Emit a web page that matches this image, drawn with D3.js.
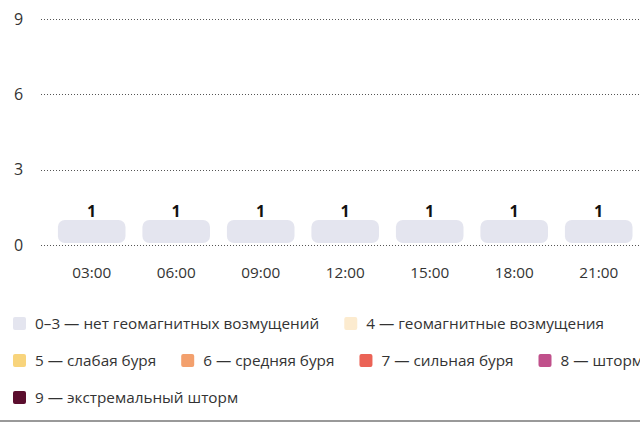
<!DOCTYPE html>
<meta charset="utf-8">
<style>
body { margin: 0; background: #fff; }
svg { display: block; font-family: "Open Sans", "Noto Sans", sans-serif; }
.grid line { stroke: #555; stroke-width: 1; stroke-dasharray: 1,2; }
.axis text { fill: #333; font-size: 15.3px; }
.axis.y text { font-size: 16px; }
.value { fill: #111; font-size: 16px; font-weight: bold; }
.legend text { fill: #333; font-size: 15.3px; }
</style>
<svg width="640" height="425"></svg>
<script src="https://cdn.jsdelivr.net/npm/d3@7/dist/d3.min.js"></script>
<script>

var hours = ["03:00", "06:00", "09:00", "12:00", "15:00", "18:00", "21:00"];
var kp = [1, 1, 1, 1, 1, 1, 1];
var yTicks = [0, 3, 6, 9];

var legendLabels = [
  "0–3 — нет геомагнитных возмущений",
  "4 — геомагнитные возмущения",
  "5 — слабая буря",
  "6 — средняя буря",
  "7 — сильная буря",
  "8 — шторм",
  "9 — экстремальный шторм"
];
var legendColors = ["#e4e5ef", "#fcebcf", "#f8d47c", "#f3a06d", "#eb6356", "#c0508b", "#5b0e2e"];

var svg = d3.select("svg"),
    left = 41,
    y0 = 245;

var y = d3.scaleLinear()
    .domain([0, 9])
    .range([y0, 19]);

// the chart is cropped on the right, band range runs a bit past the edge
var x = d3.scaleBand()
    .domain(hours)
    .range([left, left + 84.5 * 7.2])
    .paddingInner(0.2)
    .paddingOuter(0.2);

var colour = function(v) {
  if (v <= 3) return legendColors[0];
  return legendColors[v - 3];
};

// gridlines
svg.append("g")
    .attr("class", "grid")
  .selectAll("line")
  .data(yTicks)
  .enter().append("line")
    .attr("x1", left)
    .attr("x2", 640)
    .attr("y1", function(d) { return Math.round(y(d)) + 0.5; })
    .attr("y2", function(d) { return Math.round(y(d)) + 0.5; });

// y labels
svg.append("g")
    .attr("class", "axis y")
  .selectAll("text")
  .data(yTicks)
  .enter().append("text")
    .attr("x", 18.5)
    .attr("y", function(d) { return y(d); })
    .attr("dy", "0.35em")
    .attr("text-anchor", "middle")
    .text(function(d) { return d; });

// bars (rounded, sitting just above the zero line)
var bar = svg.append("g")
  .selectAll("g")
  .data(hours)
  .enter().append("g");

bar.append("rect")
    .attr("x", function(d) { return x(d); })
    .attr("y", function(d, i) { return y(kp[i]); })
    .attr("width", x.bandwidth())
    .attr("height", function(d, i) { return y(0) - y(kp[i]) - 2; })
    .attr("rx", 7)
    .attr("fill", function(d, i) { return colour(kp[i]); });

bar.append("text")
    .attr("class", "value")
    .attr("x", function(d) { return x(d) + x.bandwidth() / 2; })
    .attr("y", function(d, i) { return y(kp[i]) - 3; })
    .attr("text-anchor", "middle")
    .text(function(d, i) { return kp[i]; });

// x labels
svg.append("g")
    .attr("class", "axis")
  .selectAll("text")
  .data(hours)
  .enter().append("text")
    .attr("x", function(d) { return x(d) + x.bandwidth() / 2; })
    .attr("y", 278)
    .attr("text-anchor", "middle")
    .text(function(d) { return d; });

// legend, laid out as a wrapping row
var legend = svg.append("g").attr("class", "legend");
var lx = 13, ly = 317, maxW = 700;
legendLabels.forEach(function(label, i) {
  var item = legend.append("g");
  item.append("rect")
      .attr("width", 13)
      .attr("height", 13)
      .attr("rx", 2)
      .attr("fill", legendColors[i]);
  var t = item.append("text")
      .attr("x", 22)
      .attr("y", 6.5)
      .attr("dy", "0.35em")
      .text(label);
  var w = 22 + t.node().getComputedTextLength();
  if (lx > 13 && lx + w > maxW) {
    lx = 13;
    ly += 37;
  }
  item.attr("transform", "translate(" + lx + "," + ly + ")");
  lx += w + 25;
});

svg.append("line")
    .attr("x1", 0)
    .attr("x2", 640)
    .attr("y1", 421)
    .attr("y2", 421)
    .attr("stroke", "#999")
    .attr("stroke-width", 2);

</script>
